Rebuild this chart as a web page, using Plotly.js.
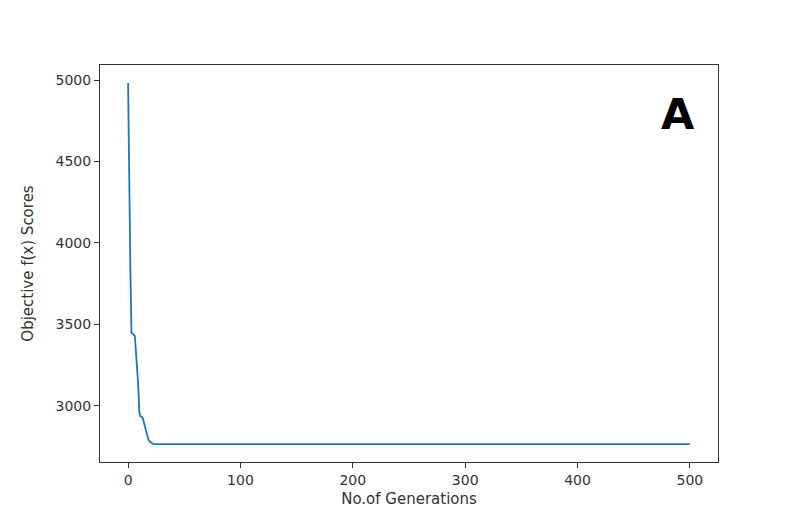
<!DOCTYPE html>
<html>
<head>
<meta charset="utf-8">
<script src="https://cdn.plot.ly/plotly-3.0.1.min.js"></script>
<style>
  html, body { margin: 0; padding: 0; background: #fff; }
  #chart { width: 800px; height: 517px; }
</style>
</head>
<body>
<div id="chart"></div>
<script>
// generations (flat after ~23 until 500)
var generations = [0, 1, 2, 3, 4, 5, 6, 7, 8, 9, 10, 11, 12, 13, 14, 15, 16, 17, 18, 19, 20, 21, 22, 23, 500];
var scores = [4983, 4258, 3850, 3450, 3445, 3440, 3430, 3330, 3240, 3130, 2960, 2935, 2932, 2926, 2900, 2870, 2840, 2815, 2795, 2782, 2775, 2770, 2767, 2765, 2765];
var xTicks = [0, 100, 200, 300, 400, 500];
var yTicks = [3000, 3500, 4000, 4500, 5000];
var panelLabel = 'A';

var data = [{
    x: generations,
    y: scores,
    type: 'scatter',
    mode: 'lines',
    hoverinfo: 'none',
    line: { color: '#1f77b4', width: 1.8 }
}];

var axisStyle = {
    showgrid: false,
    zeroline: false,
    showline: true,
    mirror: true,
    linecolor: '#333',
    linewidth: 1,
    ticks: 'outside',
    ticklen: 5,
    tickcolor: '#333',
    tickfont: { family: 'DejaVu Sans', size: 14, color: '#333' }
};

var layout = {
    width: 800,
    height: 517,
    margin: { l: 100, r: 82, t: 65, b: 55 },
    paper_bgcolor: '#fff',
    plot_bgcolor: '#fff',
    showlegend: false,
    xaxis: Object.assign({}, axisStyle, {
        range: [-25, 525],
        tickvals: xTicks,
        title: { text: 'No.of Generations', standoff: 6,
                 font: { family: 'DejaVu Sans', size: 15, color: '#333' } }
    }),
    yaxis: Object.assign({}, axisStyle, {
        range: [2655, 5093],
        tickvals: yTicks,
        title: { text: 'Objective f(x) Scores', standoff: 18,
                 font: { family: 'DejaVu Sans', size: 15, color: '#333' } }
    }),
    annotations: [{
        text: '<b>' + panelLabel + '</b>',
        xref: 'paper', yref: 'paper',
        x: 0.935, y: 0.945,
        xanchor: 'center', yanchor: 'top',
        showarrow: false,
        font: { family: 'DejaVu Sans', size: 43, color: '#000' }
    }]
};

var config = { displayModeBar: false, staticPlot: true };

Plotly.newPlot('chart', data, layout, config);
</script>
</body>
</html>
